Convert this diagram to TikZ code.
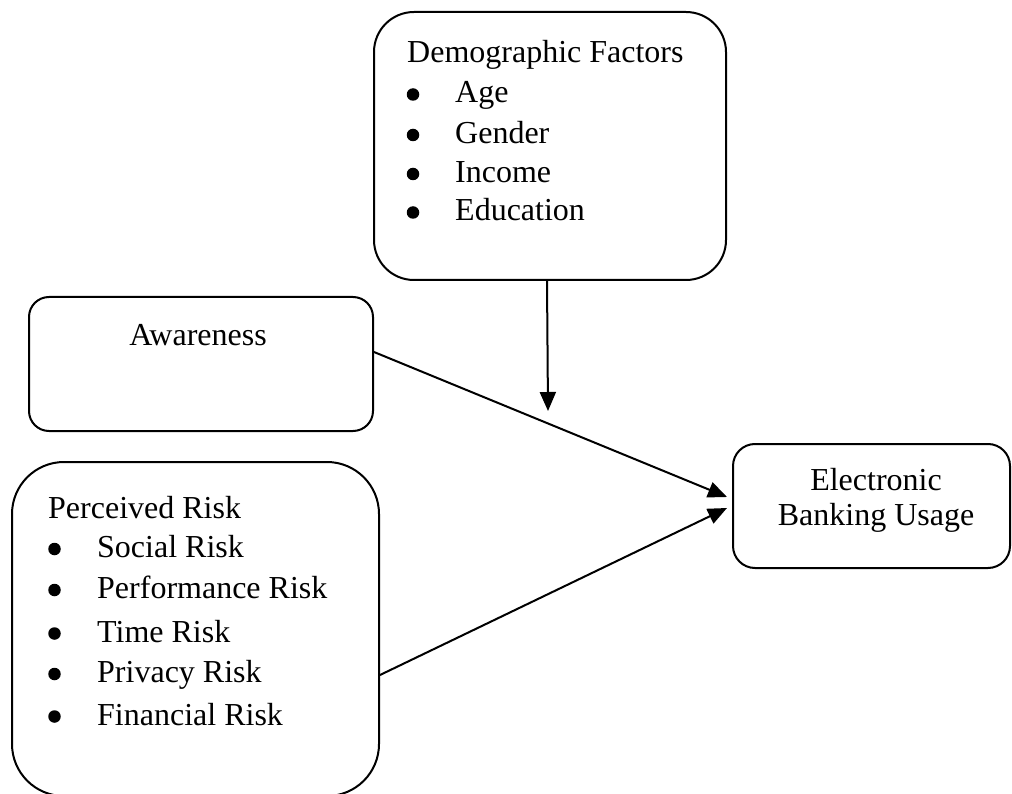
\documentclass[tikz,border=0pt]{standalone}
\usepackage{fontspec}
\setmainfont{Liberation Serif}
\usetikzlibrary{arrows.meta}
\begin{document}
\begin{tikzpicture}[x=1pt,y=-1pt,
  box/.style={draw=black, line width=2pt, inner sep=0pt},
  txt/.style={anchor=base west, inner sep=0pt, font=\fontsize{32}{39}\selectfont},
  ctxt/.style={anchor=base, inner sep=0pt, font=\fontsize{32}{39}\selectfont},
  dot/.style={circle, fill=black, inner sep=0pt, minimum size=12.5pt},
  arr/.style={line width=2pt, -{Triangle[length=19pt,width=16pt]}}]
\useasboundingbox (0,0) rectangle (1012,794);
% boxes
\node[box, rounded corners=40pt, minimum width=352pt, minimum height=268pt] (dem) at (550,146) {};
\node[box, rounded corners=20pt, minimum width=344pt, minimum height=134pt] (aw) at (201,364) {};
\node[box, rounded corners=52pt, minimum width=367pt, minimum height=334pt] (pr) at (195.5,629) {};
\node[box, rounded corners=22pt, minimum width=277pt, minimum height=124pt] (eb) at (871.5,506) {};
% demographic text
\node[txt] (demt) at (407,63) {Demographic Factors};
\node[dot] (db1) at (413,94.5) {};
\node[txt] (dt1) at (455,103) {Age};
\node[dot] (db2) at (413,135) {};
\node[txt] (dt2) at (455,143.5) {Gender};
\node[dot] (db3) at (413,174) {};
\node[txt] (dt3) at (455,182.5) {Income};
\node[dot] (db4) at (413,212.5) {};
\node[txt] (dt4) at (455,221) {Education};
% awareness
\node[ctxt] (awt) at (198,345) {Awareness};
% perceived risk
\node[txt] (prt) at (48,518) {Perceived Risk};
\node[dot] (pb1) at (54.5,549) {};
\node[txt] (pt1) at (97,557.5) {Social Risk};
\node[dot] (pb2) at (54.5,590) {};
\node[txt] (pt2) at (97,598.5) {Performance Risk};
\node[dot] (pb3) at (54.5,633.5) {};
\node[txt] (pt3) at (97,642) {Time Risk};
\node[dot] (pb4) at (54.5,674) {};
\node[txt] (pt4) at (97,682.5) {Privacy Risk};
\node[dot] (pb5) at (54.5,716.5) {};
\node[txt] (pt5) at (97,725) {Financial Risk};
% electronic banking
\node[ctxt] (ebt1) at (876,490) {Electronic};
\node[ctxt] (ebt2) at (876,525) {Banking Usage};
% connectors
\coordinate (mod) at (548,411);
\draw[arr] ([xshift=-3pt]dem.south) -- (mod);
\draw[arr] ([yshift=12pt]aw.east) -- ([xshift=-5pt,yshift=9pt]eb.west);
\draw[arr] ([yshift=-46pt]pr.east) -- ([xshift=-5pt,yshift=-2pt]eb.west);
\end{tikzpicture}
\end{document}
